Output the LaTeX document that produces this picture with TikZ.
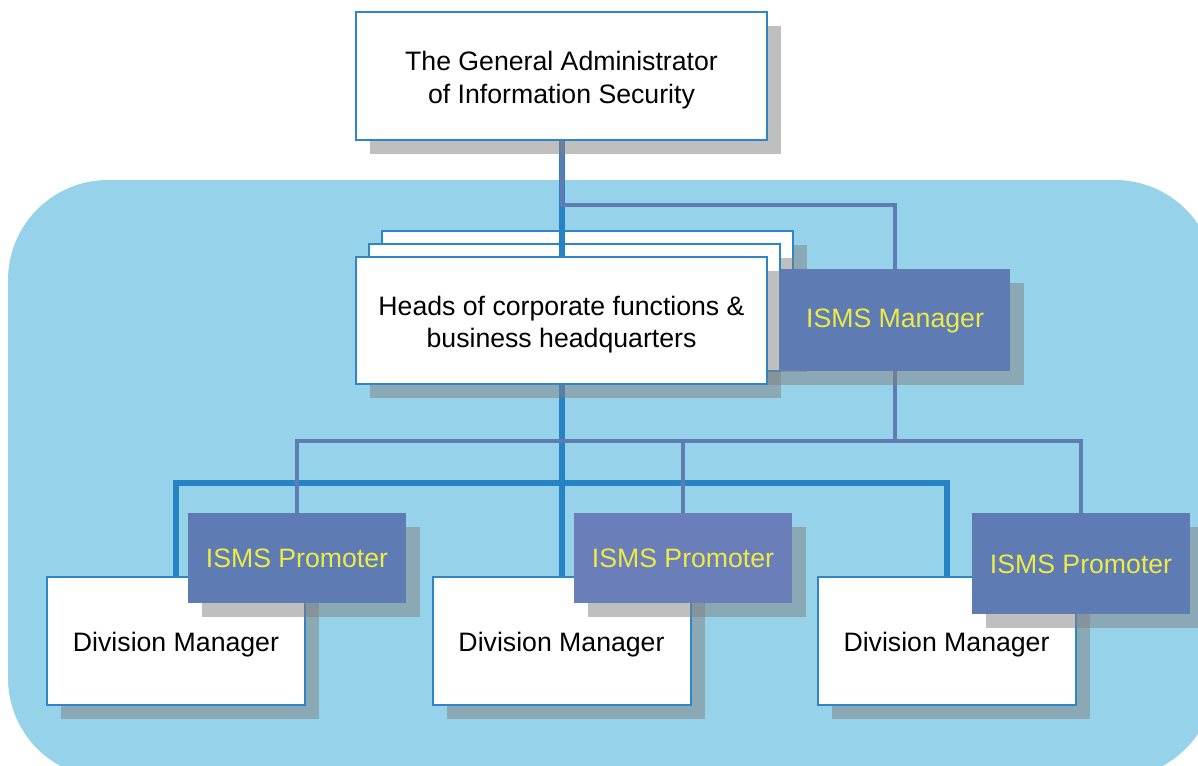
\documentclass[tikz,border=0pt]{standalone}
\usepackage{fontspec}
\setmainfont{Liberation Sans}
\definecolor{bgblue}{RGB}{150,211,235}
\definecolor{edgeblue}{RGB}{46,134,200}
\definecolor{thickblue}{RGB}{38,131,196}
\definecolor{slate}{RGB}{94,123,179}
\definecolor{slatetwo}{RGB}{106,126,185}
\definecolor{ytext}{RGB}{238,234,70}
\pgfdeclarelayer{bgl}\pgfdeclarelayer{backs}\pgfdeclarelayer{lines}
\pgfsetlayers{bgl,backs,lines,main}
\newcommand\dropshadow[1]{\fill[shad] ([shift={(14,14)}]#1.south west) rectangle ([shift={(14,14)}]#1.north east);}
\begin{document}
\begin{tikzpicture}[x=0.75pt,y=-0.75pt,
  every node/.style={inner sep=0pt,outer sep=0pt},
  lbl/.style={font=\fontsize{20}{24.5}\selectfont,align=center},
  wbox/.style={draw=edgeblue,line width=1.5pt,fill=white},
  pbox/.style={fill=slate},
  wtext/.style={lbl,text=black,yshift=-3pt},
  ytxt/.style={lbl,text=ytext,yshift=-0.5pt},
  shad/.style={fill=gray,fill opacity=0.5},
  thickln/.style={draw=thickblue,line width=4.5pt},
  thinln/.style={draw=slate,line width=3pt}]
\useasboundingbox (0,0) rectangle (1198,765);
\begin{pgfonlayer}{bgl}
  \clip (0,0) rectangle (1198,765);
  \fill[bgblue,rounded corners=75pt] (8,180) rectangle (1215,778);
\end{pgfonlayer}
% back stacked boxes
\begin{pgfonlayer}{backs}
  \node[minimum width=308.25pt,minimum height=95.25pt] (back3) at (587.5,294.5) {};
  \node[minimum width=308.25pt,minimum height=95.25pt] (back2) at (574.5,307.5) {};
  \dropshadow{back3}
  \node[wbox,minimum width=308.25pt,minimum height=95.25pt] at (back3) {};
  \dropshadow{back2}
  \node[wbox,minimum width=308.25pt,minimum height=95.25pt] at (back2) {};
\end{pgfonlayer}
% top box
\node[minimum width=308.25pt,minimum height=96pt] (top) at (561.5,76) {};
\dropshadow{top}
\node[wbox,minimum width=308.25pt,minimum height=96pt] at (top) {};
\node[wtext] (toptext) at (top) {The General Administrator\\ of Information Security};
% heads box
\node[minimum width=308.25pt,minimum height=95.25pt] (heads) at (561.5,320.5) {};
\dropshadow{heads}
\node[wbox,minimum width=308.25pt,minimum height=95.25pt] at (heads) {};
\node[wtext] (headstext) at (heads) {Heads of corporate functions \&\\ business headquarters};
% ISMS manager
\node[minimum width=172.5pt,minimum height=76.5pt] (mgr) at (895,320) {};
\dropshadow{mgr}
\node[pbox,minimum width=172.5pt,minimum height=76.5pt] at (mgr) {};
\node[ytxt] (mgrtext) at (mgr) {ISMS Manager};
% division managers
\node[minimum width=193.5pt,minimum height=96pt] (d1) at (176,641) {};
\node[minimum width=193.5pt,minimum height=96pt] (d2) at (561.5,641) {};
\node[minimum width=193.5pt,minimum height=96pt] (d3) at (946.5,641) {};
\dropshadow{d1}\dropshadow{d2}\dropshadow{d3}
\node[wbox,minimum width=193.5pt,minimum height=96pt] at (d1) {};
\node[wbox,minimum width=193.5pt,minimum height=96pt] at (d2) {};
\node[wbox,minimum width=193.5pt,minimum height=96pt] at (d3) {};
\node[wtext] (d1text) at (d1) {Division Manager};
\node[wtext] (d2text) at (d2) {Division Manager};
\node[wtext] (d3text) at (d3) {Division Manager};
% promoters
\node[minimum width=163.5pt,minimum height=67.5pt] (p1) at (297,558) {};
\node[minimum width=163.5pt,minimum height=67.5pt] (p2) at (683,558) {};
\node[minimum width=163.5pt,minimum height=75.75pt] (p3) at (1081,563.5) {};
\dropshadow{p1}\dropshadow{p2}\dropshadow{p3}
\node[pbox,minimum width=163.5pt,minimum height=67.5pt] at (p1) {};
\node[pbox,fill=slatetwo,minimum width=163.5pt,minimum height=67.5pt] at (p2) {};
\node[pbox,minimum width=163.5pt,minimum height=75.75pt] at (p3) {};
\node[ytxt] (p1text) at (p1) {ISMS Promoter};
\node[ytxt] (p2text) at (p2) {ISMS Promoter};
\node[ytxt] (p3text) at (p3) {ISMS Promoter};
% connectors
\coordinate (mtap) at (561.5,205);
\coordinate (pbus) at (895,441);
\coordinate (dbus) at (561.5,483);
\begin{pgfonlayer}{lines}
  \draw[thickln] (top.south) -- (d2.north);
  \draw[thickln] (d1.north) |- (dbus) -| (d3.north);
  \draw[thinln] (top.south) -- (mtap) -| (mgr.north);
  \draw[thinln] (mgr.south) -- (pbus);
  \draw[thinln] (p1.north) |- (pbus) -| (p3.north);
  \draw[thinln] (p2.north) -- (p2.north |- pbus);
\end{pgfonlayer}
\end{tikzpicture}
\end{document}
